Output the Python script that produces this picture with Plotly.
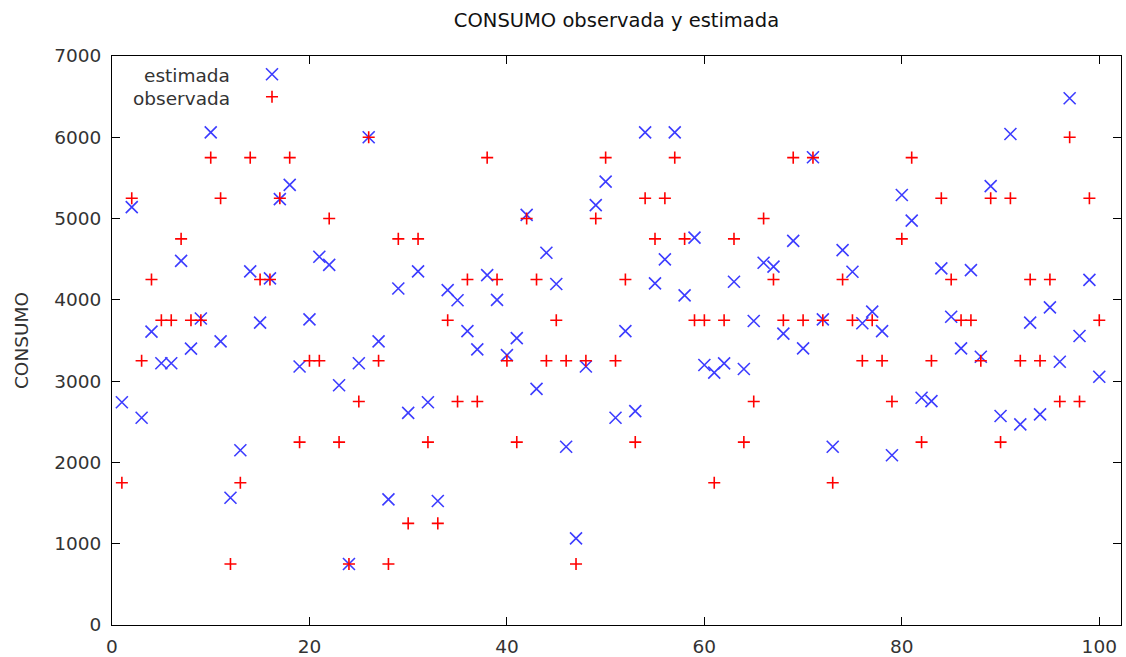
import plotly.graph_objects as go

obs_index = list(range(1, 101))

estimada = [
    2740, 5140, 2550, 3610, 3220, 3220, 4480, 3400, 3770, 6060,
    3490, 1565, 2150, 4350, 3720, 4265, 5240, 5415, 3180, 3760,
    4530, 4430, 2950, 750, 3220, 6000, 3490, 1545, 4140, 2610,
    4350, 2740, 1525, 4120, 3995, 3615, 3390, 4305, 4000, 3320,
    3530, 5045, 2905, 4580, 4195, 2193, 1066, 3180, 5165, 5455,
    2550, 3615, 2632, 6060, 4203, 4498, 6060, 4055, 4765, 3198,
    3105, 3219, 4223, 3149, 3740, 4457, 4408, 3585, 4725, 3403,
    5755, 3760, 2193, 4612, 4346, 3712, 3855, 3616, 2088, 5290,
    4975, 2796, 2755, 4387, 3792, 3403, 4366, 3300, 5400, 2571,
    6040, 2468, 3720, 2591, 3907, 3239, 6480, 3555, 4245, 3054,
]

observada = [
    1750, 5250, 3250, 4250, 3750, 3750, 4750, 3750, 3750, 5750,
    5250, 750, 1750, 5750, 4250, 4250, 5250, 5750, 2250, 3250,
    3250, 5000, 2250, 750, 2750, 6000, 3250, 750, 4750, 1250,
    4750, 2250, 1250, 3750, 2750, 4250, 2750, 5750, 4250, 3250,
    2250, 5000, 4250, 3250, 3750, 3250, 750, 3250, 5000, 5750,
    3250, 4250, 2250, 5250, 4750, 5250, 5750, 4750, 3750, 3750,
    1750, 3750, 4750, 2250, 2750, 5000, 4250, 3750, 5750, 3750,
    5750, 3750, 1750, 4250, 3750, 3250, 3750, 3250, 2750, 4750,
    5750, 2250, 3250, 5250, 4250, 3750, 3750, 3250, 5250, 2250,
    5250, 3250, 4250, 3250, 4250, 2750, 6000, 2750, 5250, 3750,
]

x_ticks = [0, 20, 40, 60, 80, 100]
y_ticks = [0, 1000, 2000, 3000, 4000, 5000, 6000, 7000]
series_names = ["estimada", "observada"]
title_text = "CONSUMO observada y estimada"
y_title = "CONSUMO"

FONT = "DejaVu Sans"
FS = 18.5
TXT = "#333333"
BLUE = "rgb(60,60,255)"
RED = "rgb(255,0,0)"

fig = go.Figure()
fig.add_trace(go.Scatter(
    x=obs_index, y=estimada, mode="markers", name=series_names[0],
    marker=dict(symbol="x-thin", size=12, color=BLUE,
                line=dict(color=BLUE, width=1.6)),
))
fig.add_trace(go.Scatter(
    x=obs_index, y=observada, mode="markers", name=series_names[1],
    marker=dict(symbol="cross-thin", size=8.6, color=RED,
                line=dict(color=RED, width=1.6)),
))

L, R, T, B = 112, 5, 56, 32
W, H = 1126, 657
pw = W - L - R
ph = H - T - B

def px_x(p):
    return (p - L) / pw

def px_y(p):
    return (H - B - p) / ph

axis_common = dict(
    showgrid=False, zeroline=False, showline=True, linecolor="black",
    linewidth=1, mirror="ticks", ticks="inside", ticklen=8,
    tickcolor="black", tickwidth=1, automargin=False,
    tickfont=dict(family=FONT, size=FS, color=TXT),
)

fig.update_layout(
    width=W, height=H,
    margin=dict(l=L, r=R, t=T, b=B, autoexpand=False),
    paper_bgcolor="white", plot_bgcolor="white",
    title=dict(text=title_text, x=0.5 * (L + W - R) / W, xanchor="center",
               y=1 - 20 / H, yanchor="middle",
               font=dict(family=FONT, size=19.5, color="#111111")),
    xaxis=dict(range=[0, 102.2], tickvals=x_ticks, ticklabelstandoff=5,
               **axis_common),
    yaxis=dict(range=[0, 7000], tickvals=y_ticks, ticklabelstandoff=6,
               title=dict(text=y_title, standoff=20,
                          font=dict(family=FONT, size=FS, color=TXT)),
               **axis_common),
    showlegend=True,
    legend=dict(x=px_x(252), y=px_y(58), xanchor="left", yanchor="top",
                bgcolor="rgba(0,0,0,0)",
                font=dict(family=FONT, size=15, color="rgba(0,0,0,0)")),
    annotations=[
        dict(text=series_names[0], xref="paper", yref="paper",
             x=px_x(232), y=px_y(76), xanchor="right", yanchor="middle",
             showarrow=False, font=dict(family=FONT, size=FS, color=TXT)),
        dict(text=series_names[1], xref="paper", yref="paper",
             x=px_x(232), y=px_y(98), xanchor="right", yanchor="middle",
             showarrow=False, font=dict(family=FONT, size=FS, color=TXT)),
    ],
)

fig.write_html("out.html")
